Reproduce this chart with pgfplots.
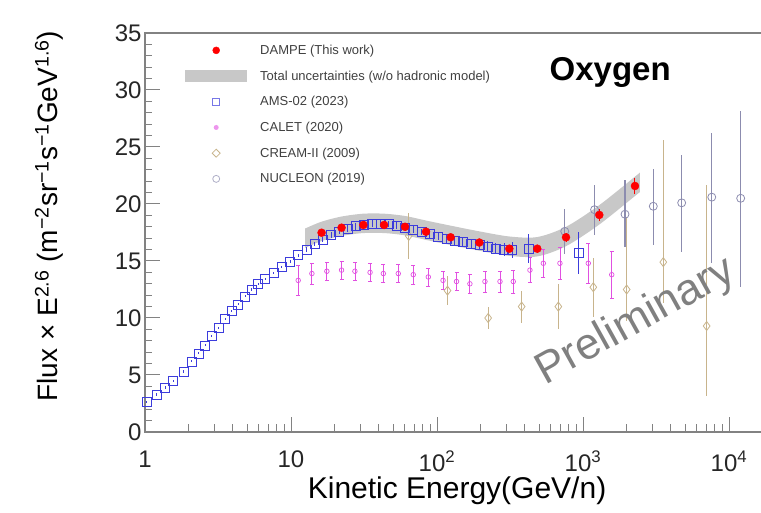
\documentclass[border=0pt]{standalone}
\usepackage{fontspec}
\setmainfont{Liberation Sans}
\usepackage{pgfplots}
\pgfplotsset{compat=1.18}
\usepgfplotslibrary{fillbetween}
\definecolor{dampered}{RGB}{255,0,0}
\definecolor{bandgray}{RGB}{200,200,200}
\definecolor{amsblue}{RGB}{60,60,220}
\definecolor{caletmag}{RGB}{225,80,225}
\definecolor{creamtan}{RGB}{200,180,140}
\definecolor{nucgray}{RGB}{140,140,175}
\definecolor{framegray}{RGB}{130,130,130}
\pgfplotsset{
 legdampe/.style={legend image code/.code={\path[draw=none,fill=none] (0pt,-6pt) rectangle (62pt,6pt); \fill[dampered] (31pt,0pt) circle (3.5pt);}},
 legband/.style={legend image code/.code={\fill[bandgray,draw=none] (0pt,-6pt) rectangle (62pt,6pt);}},
 legams/.style={legend image code/.code={\path[draw=none,fill=none] (0pt,-6pt) rectangle (62pt,6pt); \draw[amsblue!70,line width=0.8pt,fill=none] (27.5pt,-3.5pt) rectangle (34.5pt,3.5pt);}},
 legcalet/.style={legend image code/.code={\path[draw=none,fill=none] (0pt,-6pt) rectangle (62pt,6pt); \fill[caletmag!60,draw=none] (31pt,0pt) circle (2.5pt);}},
 legcream/.style={legend image code/.code={\path[draw=none,fill=none] (0pt,-6pt) rectangle (62pt,6pt); \draw[creamtan,line width=0.8pt,fill=none] (31pt,-4pt) -- (35pt,0pt) -- (31pt,4pt) -- (27pt,0pt) -- cycle;}},
 legnuc/.style={legend image code/.code={\path[draw=none,fill=none] (0pt,-6pt) rectangle (62pt,6pt); \draw[nucgray!70,line width=0.8pt,fill=none] (31pt,0pt) circle (3.5pt);}},
}
\begin{document}
\begin{tikzpicture}[x=1pt,y=1pt]
\begin{axis}[
  at={(145pt,81pt)}, anchor=south west,
  scale only axis, width=657pt, height=399pt,
  xmode=log, xmin=1, xmax=31623, ymin=0, ymax=35,
  axis line style={draw=framegray, line width=1.2pt},
  tick style={draw=framegray, line width=1pt},
  tick align=inside, xtick pos=bottom, ytick pos=left,
  major tick length=15pt, minor tick length=7.5pt,
  xtick={1,10,100,1000,10000},
  xticklabels={1,10,10\textsuperscript{2},10\textsuperscript{3},10\textsuperscript{4}},
  ytick={0,5,10,15,20,25,30,35},
  yticklabels={0,5,10,15,20,25,30,35},
  minor y tick num=4,
  ticklabel style={font=\fontsize{24}{24}\selectfont, text=black!85},
  xticklabel style={yshift=-15pt},
  xlabel={Kinetic Energy(GeV/n)},
  xlabel style={font=\fontsize{30}{30}\selectfont, at={(axis description cs:0.475,-0.148)}, anchor=center},
  ylabel={Flux × E\textsuperscript{2.6} (m\textsuperscript{−2}sr\textsuperscript{−1}s\textsuperscript{−1}GeV\textsuperscript{1.6})},
  ylabel style={font=\fontsize{28}{28}\selectfont, at={(axis description cs:-0.146,0.541)}, anchor=center},
  legend style={draw=none, fill=none, at={(axis description cs:0.0609,0.972)}, anchor=north west,
    font=\fontsize{13}{13}\selectfont, text=black!75, row sep=13.7pt, column sep=13pt, inner sep=0pt,
    nodes={inner sep=0pt}},
  legend cell align=left,
  clip=false,
]
\addlegendimage{legdampe}\addlegendentry{DAMPE (This work)}
\addlegendimage{legband}\addlegendentry{Total uncertainties (w/o hadronic model)}
\addlegendimage{legams}\addlegendentry{AMS-02 (2023)}
\addlegendimage{legcalet}\addlegendentry{CALET (2020)}
\addlegendimage{legcream}\addlegendentry{CREAM-II (2009)}
\addlegendimage{legnuc}\addlegendentry{NUCLEON (2019)}

% uncertainty band
\addplot[name path=bu, draw=none, smooth, forget plot] coordinates {
(12.5,17.85)(16.2,18.45)(22.2,18.9)(31.3,19.15)(43.4,19.15)(60.4,18.95)(84.1,18.55)(124,18.1)(195,17.6)(313,17.15)(486,17.1)(765,18.0)(1293,19.9)(2270,22.4)(2450,22.75)};
\addplot[name path=bl, draw=none, smooth, forget plot] coordinates {
(12.5,16.15)(16.2,16.75)(22.2,17.2)(31.3,17.45)(43.4,17.45)(60.4,17.25)(84.1,16.85)(124,16.4)(195,15.9)(313,15.45)(486,15.4)(765,16.3)(1293,18.2)(2270,20.7)(2450,21.05)};
\addplot[bandgray, forget plot] fill between[of=bu and bl];

% CREAM-II
\addplot[only marks, forget plot, color=creamtan, mark=diamond, mark size=4.5pt, line width=0.8pt,
  error bars/.cd, y dir=both, y explicit, error mark=none, error bar style={line width=0.9pt}] coordinates {
(64,17.2) += (0,2.0) -= (0,2.0)
(118,12.4) += (0,1.3) -= (0,1.3)
(224,10.0) += (0,1.0) -= (0,1.0)
(380,11.0) += (0,1.4) -= (0,1.4)
(678,11.0) += (0,2.0) -= (0,2.0)
(1177,12.7) += (0,2.6) -= (0,2.6)
(1991,12.5) += (0,6.4) -= (0,2.8)
(3548,14.9) += (0,10.7) -= (0,3.6)
(7030,9.3) += (0,12.4) -= (0,6.1)
};

% NUCLEON
\addplot[only marks, forget plot, color=nucgray, mark=o, mark size=4pt, line width=0.8pt,
  error bars/.cd, y dir=both, y explicit, error mark=none, error bar style={line width=1.1pt}] coordinates {
(750,17.6) += (0,2.0) -= (0,2.0)
(1200,19.5) += (0,2.2) -= (0,2.2)
(1940,19.1) += (0,3.0) -= (0,2.9)
(3030,19.8) += (0,3.3) -= (0,3.4)
(4740,20.1) += (0,4.2) -= (0,4.3)
(7620,20.6) += (0,5.6) -= (0,5.8)
(12020,20.5) += (0,7.7) -= (0,7.8)
};

% CALET
\addplot[only marks, forget plot, color=caletmag, mark=o, mark size=2.3pt, line width=0.7pt,
  error bars/.cd, y dir=both, y explicit, error mark options={rotate=90, mark size=2pt}, error bar style={line width=0.8pt}] coordinates {
(11.2,13.3) +- (0,1.3)
(13.9,13.9) +- (0,0.9)
(17.6,14.1) +- (0,0.8)
(22.2,14.2) +- (0,0.8)
(27.4,14.1) +- (0,0.8)
(34.8,14.0) +- (0,0.8)
(42.9,13.9) +- (0,0.8)
(54.3,13.9) +- (0,0.8)
(68.8,13.8) +- (0,0.8)
(87.2,13.6) +- (0,0.8)
(110,13.3) +- (0,0.8)
(136,13.2) +- (0,0.8)
(168,13.0) +- (0,0.8)
(213,13.2) +- (0,0.9)
(270,13.2) +- (0,0.9)
(333,13.2) +- (0,1.0)
(433,14.2) +- (0,1.1)
(535,14.8) +- (0,1.2)
(695,14.8) +- (0,1.4)
(1087,14.8) +- (0,1.75)
(1573,13.8) +- (0,2.1)
};

% AMS-02
\addplot[only marks, forget plot, color=amsblue, mark=square, mark size=4.5pt, line width=0.6pt,
  error bars/.cd, y dir=both, y explicit, error mark=none, error bar style={line width=0.8pt}] coordinates {
(1.03,2.66) +- (0,0.1)
(1.20,3.30) +- (0,0.1)
(1.37,3.90) +- (0,0.1)
(1.56,4.50) +- (0,0.1)
(1.83,5.30) +- (0,0.1)
(2.09,6.20) +- (0,0.1)
(2.32,6.90) +- (0,0.1)
(2.58,7.60) +- (0,0.1)
(2.86,8.40) +- (0,0.1)
(3.18,9.10) +- (0,0.1)
(3.53,9.90) +- (0,0.1)
(3.92,10.60) +- (0,0.1)
(4.35,11.20) +- (0,0.1)
(4.84,11.90) +- (0,0.1)
(5.38,12.50) +- (0,0.1)
(5.97,13.00) +- (0,0.1)
(6.64,13.40) +- (0,0.1)
(7.57,13.95) +- (0,0.1)
(8.64,14.50) +- (0,0.1)
(9.85,14.95) +- (0,0.15)
(11.2,15.50) +- (0,0.15)
(12.8,16.00) +- (0,0.2)
(14.5,16.50) +- (0,0.2)
(16.5,16.90) +- (0,0.2)
(18.8,17.30) +- (0,0.25)
(21.4,17.60) +- (0,0.25)
(24.4,17.85) +- (0,0.3)
(27.8,18.05) +- (0,0.3)
(31.6,18.20) +- (0,0.3)
(36.0,18.30) +- (0,0.3)
(41.0,18.30) +- (0,0.3)
(46.7,18.25) +- (0,0.3)
(53.1,18.10) +- (0,0.3)
(60.5,17.95) +- (0,0.3)
(68.8,17.75) +- (0,0.3)
(78.4,17.55) +- (0,0.3)
(89.2,17.35) +- (0,0.35)
(102,17.15) +- (0,0.35)
(116,16.95) +- (0,0.35)
(132,16.80) +- (0,0.4)
(150,16.65) +- (0,0.4)
(171,16.50) +- (0,0.4)
(195,16.40) +- (0,0.45)
(222,16.25) +- (0,0.5)
(253,16.10) +- (0,0.5)
(288,16.00) +- (0,0.6)
(327,15.95) +- (0,0.7)
(424,16.10) +- (0,1.3)
(929,15.70) +- (0,1.8)
};

% DAMPE
\addplot[only marks, forget plot, color=dampered, mark=*, mark size=4pt,
  error bars/.cd, y dir=both, y explicit, error mark=none, error bar style={line width=1pt}] coordinates {
(16.2,17.48) +- (0,0.3)
(22.2,17.92) +- (0,0.3)
(31.3,18.16) +- (0,0.3)
(43.4,18.16) +- (0,0.3)
(60.4,18.00) +- (0,0.3)
(84.1,17.57) +- (0,0.3)
(124,17.08) +- (0,0.3)
(195,16.62) +- (0,0.3)
(313,16.08) +- (0,0.3)
(486,16.08) +- (0,0.35)
(765,17.08) +- (0,0.4)
(1293,19.04) +- (0,0.5)
(2270,21.58) +- (0,0.7)
};

\node[font=\fontsize{33}{33}\selectfont\bfseries] at (rel axis cs:0.708,0.902) {Oxygen};
\node[rotate=29, text=black!50, font=\fontsize{44}{44}\selectfont] at (rel axis cs:0.747,0.276) {Preliminary};
\end{axis}
\pgfresetboundingbox
\path[use as bounding box] (0,0) rectangle (761,513);
\end{tikzpicture}
\end{document}
